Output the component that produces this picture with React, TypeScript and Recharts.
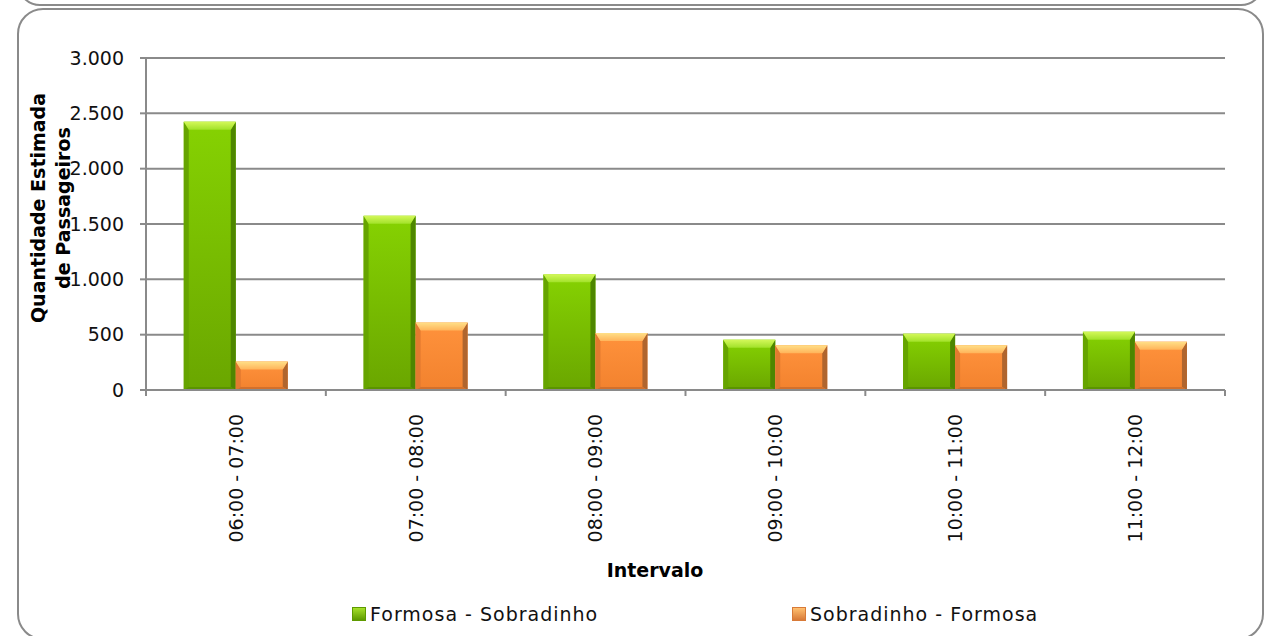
import React from "react";
import { BarChart, Bar, XAxis, YAxis, CartesianGrid, Legend } from "recharts";

const categories = ["06:00 - 07:00", "07:00 - 08:00", "08:00 - 09:00", "09:00 - 10:00", "10:00 - 11:00", "11:00 - 12:00"];
const formosaSobradinho = [2425, 1575, 1045, 455, 509, 527];
const sobradinhoFormosa = [258, 610, 515, 405, 405, 437];
const yTicks = [0, 500, 1000, 1500, 2000, 2500, 3000];
const seriesNames = ["Formosa - Sobradinho", "Sobradinho - Formosa"];

const data = categories.map((name, i) => ({
  name,
  fs: formosaSobradinho[i],
  sf: sobradinhoFormosa[i],
}));

const FONT = "'DejaVu Sans', sans-serif";
const GRID = "#8a8a8a";

const palettes: Record<string, any> = {
  green: { body: "url(#gBody)", top: "url(#gTop)", left: "#66a400", right: "#4e8600", bottom: "#5a9400" },
  orange: { body: "url(#oBody)", top: "url(#oTop)", left: "#e27a30", right: "#b0652e", bottom: "#d2702c" },
};

const fmt = (v: number) => String(v).replace(/\B(?=(\d{3})+(?!\d))/g, ".");

const BevelBar = (props: any) => {
  const { x, y, width: w, height: h, variant } = props;
  if (!h || h <= 0) return null;
  const p = palettes[variant];
  const t = Math.min(8, h / 3);
  const s = Math.min(5, w / 4);
  const b = Math.min(3, h / 5);
  return (
    <g>
      <rect x={x} y={y} width={w} height={h} fill={p.body} />
      <polygon points={`${x},${y} ${x + s},${y + t} ${x + s},${y + h - b} ${x},${y + h}`} fill={p.left} />
      <polygon points={`${x + w},${y} ${x + w - s},${y + t} ${x + w - s},${y + h - b} ${x + w},${y + h}`} fill={p.right} />
      <polygon points={`${x},${y + h} ${x + s},${y + h - b} ${x + w - s},${y + h - b} ${x + w},${y + h}`} fill={p.bottom} />
      <polygon points={`${x},${y} ${x + w},${y} ${x + w - s},${y + t} ${x + s},${y + t}`} fill={p.top} />
    </g>
  );
};

const XTick = (props: any) => {
  const { x, y, payload, index, width } = props;
  const band = width / categories.length;
  return (
    <g>
      <line x1={x - band / 2} x2={x - band / 2} y1={y} y2={y + 6} stroke={GRID} strokeWidth={2} />
      {index === categories.length - 1 && (
        <line x1={x + band / 2} x2={x + band / 2} y1={y} y2={y + 6} stroke={GRID} strokeWidth={2} />
      )}
      <text
        x={x}
        y={y + 24}
        transform={`rotate(-90, ${x}, ${y + 24})`}
        textAnchor="end"
        dy="0.36em"
        fontFamily={FONT}
        fontSize={19}
        fill="#111"
      >
        {payload.value}
      </text>
    </g>
  );
};

const YTitle = (props: any) => {
  const vb = props.viewBox || { x: 0, y: 58, width: 146, height: 332 };
  const cy = vb.y + 150;
  return (
    <g fontFamily={FONT} fontSize={19} fontWeight="bold" fill="#000">
      <text x={38} y={cy} transform={`rotate(-90, 38, ${cy})`} textAnchor="middle" dominantBaseline="central">
        Quantidade Estimada
      </text>
      <text x={63} y={cy} transform={`rotate(-90, 63, ${cy})`} textAnchor="middle" dominantBaseline="central">
        de Passageiros
      </text>
    </g>
  );
};

const XTitle = (props: any) => {
  const vb = props.viewBox || { x: 146, y: 390 };
  return (
    <text x={vb.x + 509} y={vb.y + 180} textAnchor="middle" dominantBaseline="central" fontFamily={FONT} fontSize={19} fontWeight="bold" fill="#000">
      Intervalo
    </text>
  );
};

const LegendContent = () => {
  const items = [
    { name: seriesNames[0], a: "#a6e02a", c: "#5e9a00", left: 352 },
    { name: seriesNames[1], a: "#ffc070", c: "#d87a38", left: 792 },
  ];
  return (
    <div style={{ position: "relative", width: 1266, height: 26, fontFamily: FONT, fontSize: 19, color: "#111" }}>
      {items.map((it) => (
        <div key={it.name} style={{ position: "absolute", left: it.left, top: 0, display: "flex", alignItems: "center", letterSpacing: 1 }}>
          <span style={{ display: "inline-block", width: 12, height: 12, marginRight: 4, background: `linear-gradient(${it.a}, ${it.c})`, border: `1px solid ${it.c}` }} />
          {it.name}
        </div>
      ))}
    </div>
  );
};

export default function App() {
  return (
    <div style={{ position: "absolute", left: 0, top: 0, width: 1266, height: 636, overflow: "hidden", background: "#fff" }}>
      <div style={{ position: "absolute", left: 17, top: -40, width: 1243, height: 42, border: `2px solid ${GRID}`, borderRadius: 26 }} />
      <div style={{ position: "absolute", left: 17, top: 8, width: 1243, height: 628, border: `2px solid ${GRID}`, borderRadius: 26 }} />
      <div style={{ position: "absolute", left: 0, top: 0 }}>
        <BarChart
          width={1266}
          height={636}
          data={data}
          margin={{ top: 58, right: 41, bottom: 0, left: 0 }}
          barCategoryGap="21%"
          barGap={0}
        >
          <defs>
            <linearGradient id="gBody" x1="0" y1="0" x2="0" y2="1">
              <stop offset="0%" stopColor="#86d202" />
              <stop offset="100%" stopColor="#6aa600" />
            </linearGradient>
            <linearGradient id="gTop" x1="0" y1="0" x2="0" y2="1">
              <stop offset="0%" stopColor="#d4f85a" />
              <stop offset="100%" stopColor="#a2e22a" />
            </linearGradient>
            <linearGradient id="oBody" x1="0" y1="0" x2="0" y2="1">
              <stop offset="0%" stopColor="#ff923c" />
              <stop offset="100%" stopColor="#f2822e" />
            </linearGradient>
            <linearGradient id="oTop" x1="0" y1="0" x2="0" y2="1">
              <stop offset="0%" stopColor="#ffe088" />
              <stop offset="100%" stopColor="#ffb45a" />
            </linearGradient>
          </defs>
          <CartesianGrid vertical={false} stroke={GRID} strokeWidth={2} />
          <XAxis
            dataKey="name"
            height={246}
            interval={0}
            tickLine={false}
            tickSize={0}
            tickMargin={0}
            axisLine={{ stroke: GRID, strokeWidth: 2 }}
            tick={<XTick />}
            label={<XTitle />}
          />
          <YAxis
            width={146}
            domain={[0, 3000]}
            ticks={yTicks}
            interval={0}
            tickSize={6}
            tickMargin={16}
            tickFormatter={fmt}
            axisLine={{ stroke: GRID, strokeWidth: 2 }}
            tickLine={{ stroke: GRID, strokeWidth: 2 }}
            tick={{ fontFamily: FONT, fontSize: 19, fill: "#111" }}
            label={<YTitle />}
          />
          <Legend
            verticalAlign="middle"
            align="center"
            content={<LegendContent />}
            wrapperStyle={{ top: 603, left: 0, width: 1266 }}
          />
          <Bar dataKey="fs" name={seriesNames[0]} isAnimationActive={false} shape={(p: any) => <BevelBar {...p} variant="green" />} />
          <Bar dataKey="sf" name={seriesNames[1]} isAnimationActive={false} shape={(p: any) => <BevelBar {...p} variant="orange" />} />
        </BarChart>
      </div>
    </div>
  );
}
